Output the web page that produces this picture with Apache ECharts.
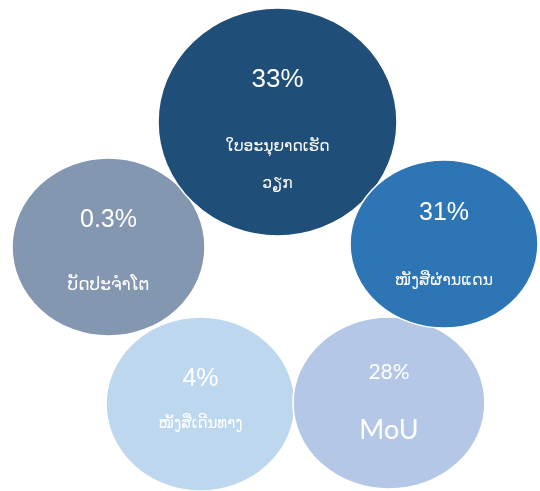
<!DOCTYPE html>
<html>
<head>
<meta charset="utf-8">
<script src="https://cdn.jsdelivr.net/npm/echarts@6/dist/echarts.min.js"></script>
<style>
	html, body { margin: 0; padding: 0; background: #fff; }
	#chart { width: 540px; height: 491px; }
</style>
</head>
<body>
<div id="chart"></div>
<script>
	// bubble content, in drawing order (later ones are on top)
	const names = ['ໜັງສືເດີນທາງ', 'MoU', 'ບັດປະຈຳໂຕ', 'ໃບອະນຸຍາດເຮັດ\nວຽກ', 'ໜັງສືຜ່ານແດນ'];
	const shares = ['4%', '28%', '0.3%', '33%', '31%'];
	const posX = [200.5, 389, 108.5, 277.5, 444];
	const posY = [404, 403, 247, 122, 244];

	// looks
	const colors = ['#BDD7EE', '#B4C7E7', '#8497B0', '#1F4E79', '#2E75B6'];
	const sizes = [[189, 174], [192, 172], [193, 178], [239, 228], [188, 168]];
	const looks = [
		{ pf: 25, nf: 15, lp: 72, ln: 18, off: -16, font: 'Liberation Sans, DejaVu Sans' },
		{ pf: 21, nf: 27, lp: 86, ln: 30, off: -16, font: 'Lato, DejaVu Sans' },
		{ pf: 25, nf: 17, lp: 110, ln: 20, off: -17, font: 'Liberation Sans, DejaVu Sans' },
		{ pf: 26, nf: 15.5, lp: 97, ln: 37, off: -5, font: 'Liberation Sans, DejaVu Sans' },
		{ pf: 25, nf: 16, lp: 116, ln: 20, off: -21, font: 'Liberation Sans, DejaVu Sans' }
	];

	const myChart = echarts.init(document.getElementById('chart'));

	const data = names.map(function(n, i) {
		const lk = looks[i];
		return {
			value: [posX[i], posY[i]],
			symbolSize: sizes[i],
			itemStyle: { color: colors[i] },
			label: {
				show: true,
				position: 'inside',
				offset: [0, lk.off],
				formatter: '{p|' + shares[i] + '}\n' + n.split('\n').map(function(s) {
					return '{n|' + s + '}';
				}).join('\n'),
				rich: {
					p: { fontSize: lk.pf, lineHeight: lk.lp, color: '#fff', fontFamily: lk.font },
					n: { fontSize: lk.nf, lineHeight: lk.ln, color: '#fff', fontFamily: lk.font }
				}
			}
		};
	});

	const option = {
		animation: false,
		grid: { left: 0, right: 0, top: 0, bottom: 0 },
		xAxis: { type: 'value', min: 0, max: 540, show: false },
		yAxis: { type: 'value', min: 0, max: 491, inverse: true, show: false },
		series: [{
			type: 'scatter',
			symbol: 'circle',
			itemStyle: { borderColor: '#fff', borderWidth: 1.5, opacity: 1 },
			emphasis: { disabled: true },
			data: data
		}]
	};

	myChart.setOption(option);
</script>
</body>
</html>
